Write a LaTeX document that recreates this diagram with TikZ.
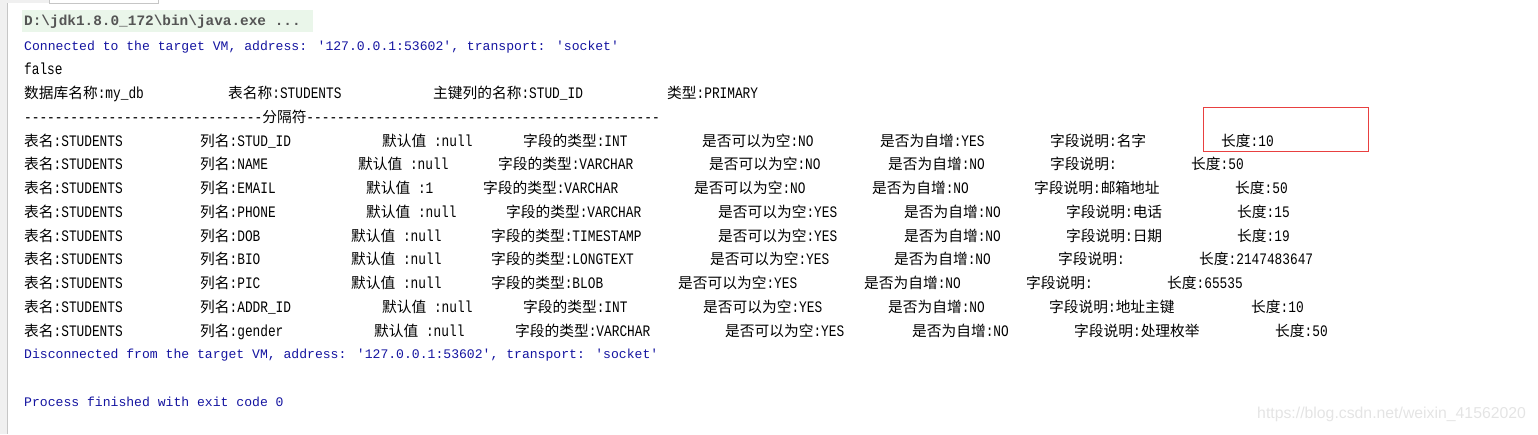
\documentclass[tikz,border=0pt]{standalone}
\usepackage{fontspec}
\newfontfamily\consolefont{Liberation Mono}
\newfontfamily\datafont[FakeStretch=0.8]{Liberation Mono}
\newfontfamily\zhfont[Scale=0.92]{Noto Sans CJK SC}
\newfontfamily\webfont{Liberation Sans}
\newcommand{\zh}[1]{{\zhfont #1}}
\definecolor{vmblue}{RGB}{20,20,160}
\definecolor{cmdgray}{RGB}{85,85,85}
\definecolor{cmdbg}{RGB}{234,246,234}
\definecolor{boxred}{RGB}{232,64,64}
\definecolor{guttergray}{RGB}{240,240,240}
\definecolor{wmgray}{RGB}{228,228,228}

\begin{document}
\begin{tikzpicture}[x=1pt,y=-1pt,
  txt/.style={anchor=west,inner sep=0pt,text height=10pt,text depth=0pt,
    font=\datafont\fontsize{16}{18}\selectfont},
  sys/.style={anchor=west,inner sep=0pt,text height=8.5pt,text depth=0pt,text=vmblue,
    font=\consolefont\fontsize{13.1}{15}\selectfont}]
  \useasboundingbox (0,0) rectangle (1538,434);

  % window frame
  \fill[guttergray] (0,0) rectangle (7,434);
  \draw[gray!45] (7,3) -- (7,434);
  \fill[gray!12] (0,0) rectangle (49,3);
  \draw[gray!45] (49,0) -- (49,3) -- (158,3) -- (158,0);

  % console header
  \fill[cmdbg] (22,10) rectangle (313,32);
  \node[sys,text=cmdgray,font=\consolefont\bfseries\fontsize{14.4}{16}\selectfont] (cmd) at (24,21)
    {D:\textbackslash jdk1.8.0\_172\textbackslash bin\textbackslash java.exe ...};
  \node[sys] (conn) at (24,46) {Connected to the target VM, address: '127.0.0.1:53602', transport: 'socket'};
  \node[txt] (flag) at (24,69) {false};

  % primary key line
  \node[txt] (dbname) at (24,93) {\zh{数据库名称}:my\_db};
  \node[txt] (tblname) at (228,93) {\zh{表名称}:STUDENTS};
  \node[txt] (pkname) at (433,93) {\zh{主键列的名称}:STUD\_ID};
  \node[txt] (pktype) at (667,93) {\zh{类型}:PRIMARY};
  \node[txt] (sep) at (24,117)
    {-------------------------------\zh{分隔符}----------------------------------------------};

  % one line per column
  \foreach \r/\yy/\col/\dv/\ty/\nu/\ai/\cm/\ln/\xc/\xd/\xe/\xf/\xg/\xh in {
    1/141/STUD\_ID/null/INT/NO/YES/名字/10/382/523/702/880/1050/1221,
    2/164/NAME/null/VARCHAR/NO/NO/{}/50/358/498/709/888/1050/1191,
    3/188/EMAIL/1/VARCHAR/NO/NO/邮箱地址/50/366/483/694/872/1034/1235,
    4/212/PHONE/null/VARCHAR/YES/NO/电话/15/366/506/718/904/1066/1237,
    5/236/DOB/null/TIMESTAMP/YES/NO/日期/19/351/491/718/904/1066/1237,
    6/259/BIO/null/LONGTEXT/YES/NO/{}/2147483647/351/491/710/894/1058/1199,
    7/283/PIC/null/BLOB/YES/NO/{}/65535/351/491/678/864/1026/1167,
    8/307/ADDR\_ID/null/INT/YES/NO/地址主键/10/382/523/703/888/1049/1251,
    9/331/gender/null/VARCHAR/YES/NO/处理枚举/50/374/515/725/912/1074/1275}
  {
    \node[txt] (tbl\r) at (24,\yy) {\zh{表名}:STUDENTS};
    \node[txt] (col\r) at (200,\yy) {\zh{列名}:\col};
    \node[txt] (dflt\r) at (\xc,\yy) {\zh{默认值} :\dv};
    \node[txt] (type\r) at (\xd,\yy) {\zh{字段的类型}:\ty};
    \node[txt] (null\r) at (\xe,\yy) {\zh{是否可以为空}:\nu};
    \node[txt] (inc\r) at (\xf,\yy) {\zh{是否为自增}:\ai};
    \node[txt] (cmt\r) at (\xg,\yy) {\zh{字段说明}:\zh{\cm}};
    \node[txt] (len\r) at (\xh,\yy) {\zh{长度}:\ln};
  }

  % highlight on the first length
  \draw[boxred,line width=0.9pt] (1203,107) rectangle (1368,151);

  % console footer
  \node[sys] (disc) at (24,354) {Disconnected from the target VM, address: '127.0.0.1:53602', transport: 'socket'};
  \node[sys] (done) at (24,402) {Process finished with exit code 0};
  \node[anchor=west,inner sep=0pt,text=wmgray,font=\webfont\fontsize{15.8}{18}\selectfont] (mark) at (1257,414)
    {https://blog.csdn.net/weixin\_41562020};
\end{tikzpicture}
\end{document}
